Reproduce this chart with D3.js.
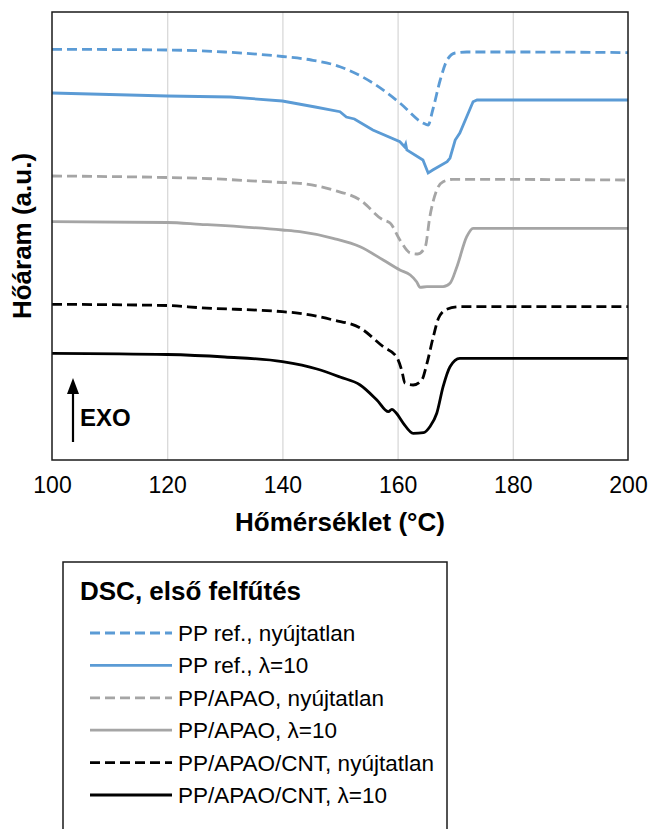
<!DOCTYPE html>
<html><head><meta charset="utf-8">
<script src="https://cdn.jsdelivr.net/npm/d3@7"></script>
<style>body{margin:0;background:#fff}svg{display:block}text{font-family:Arial,"Liberation Sans",sans-serif;fill:#000}</style>
</head><body><svg id="c" width="650" height="829"></svg>
<script>
// ---- data ----
const seriesNames = ["PP ref., nyújtatlan","PP ref., λ=10","PP/APAO, nyújtatlan","PP/APAO, λ=10","PP/APAO/CNT, nyújtatlan","PP/APAO/CNT, λ=10"];
const tPPrefUn = [100,120,130,140,145,150,155.7,160.4,164.4,165.3,166.1,167.4,168.6,170,172,180,200];
const hPPrefUn = [41.07,41.0,40.8,40.35,40.0,39.33,37.7,35.7,33.7,33.5,35.0,38.0,40.0,40.7,40.8,40.8,40.74];
const tPPref10 = [100,110,120,131,140,145.7,150,151.1,152.5,155.7,160.4,161.2,161.4,161.6,164.4,165.3,166.1,168.6,169.1,170,170.8,173.1,173.8,180,200];
const hPPref10 = [36.7,36.55,36.4,36.3,35.9,35.3,34.83,34.3,34.1,33.0,31.83,31.33,31.6,31.0,30.0,28.7,29.0,29.83,30.2,32.0,32.7,35.83,36.0,36.0,36.0];
const tAPAOUn = [100,120,125.7,140,143,148.8,153.5,157.5,158.7,160.4,162.2,163.5,164.8,165.6,166.8,167.9,169.6,200];
const hAPAOUn = [28.4,28.25,28.17,27.75,27.67,27.0,26.0,24.0,23.7,22.0,20.7,20.6,21.33,24.33,27.0,27.83,28.07,28.0];
const tAPAO10 = [100,120,125.7,140,143,148.8,153.5,157.5,160.4,162.2,163.3,163.9,165.1,167.9,169.1,170.3,172,173.1,200];
const hAPAO10 = [23.83,23.75,23.57,23.0,22.83,22.17,21.33,20.0,19.0,18.5,17.83,17.27,17.33,17.33,17.67,19.33,22.33,23.17,23.17];
const tCNTUn = [100,120,125.7,140,143,148.8,153.5,157.5,159.8,160.7,161.3,162.7,164.2,165.1,166.2,167.1,168.5,170.8,200];
const hCNTUn = [15.57,15.45,15.23,14.83,14.67,14.0,13.2,11.33,10.33,9.0,7.67,7.5,8.0,9.67,12.33,14.17,15.07,15.33,15.33];
const tCNT10 = [100,120,130,140,146,150,153.5,156.4,158.4,159,159.8,161,162.7,164.5,165.6,166.8,167.9,169.1,170.8,200];
const hCNT10 = [10.67,10.55,10.3,9.83,9.1,8.3,7.5,6.0,4.83,5.07,4.67,3.67,2.67,2.73,3.33,4.67,7.33,9.33,10.17,10.17];
const xTicks = [100,120,140,160,180,200];
const xTitle = "Hőmérséklet (°C)";
const yTitle = "Hőáram (a.u.)";
const legendTitle = "DSC, első felfűtés";
const exoLabel = "EXO";

// ---- styles ----
const colors = ["#5b9bd5","#5b9bd5","#a5a5a5","#a5a5a5","#000000","#000000"];
const dashed = [true,false,true,false,true,false];
const temps = [tPPrefUn,tPPref10,tAPAOUn,tAPAO10,tCNTUn,tCNT10];
const flows = [hPPrefUn,hPPref10,hAPAOUn,hAPAO10,hCNTUn,hCNT10];

const svg = d3.select("#c");
const L=52,R=628,T=12,B=460;
const x = d3.scaleLinear().domain([100,200]).range([L,R]);
const y = d3.scaleLinear().domain([0,44.8]).range([B,T]);

// grid
svg.append("g").attr("transform",`translate(0,${B})`)
  .call(d3.axisBottom(x).tickValues(xTicks.slice(1,-1)).tickSize(-(B-T)).tickFormat(""))
  .call(g=>g.select(".domain").remove())
  .call(g=>g.selectAll("line").attr("stroke","#d9d9d9").attr("stroke-width",1.3));

// tick labels
svg.append("g").attr("transform",`translate(0,${B})`)
  .call(d3.axisBottom(x).tickValues(xTicks).tickSize(0).tickPadding(17).tickFormat(d3.format("d")))
  .call(g=>g.select(".domain").remove())
  .call(g=>g.selectAll("text").attr("font-size",23).attr("font-family","Arial, Liberation Sans, sans-serif").attr("fill","#000"));

// curves
svg.append("clipPath").attr("id","pc").append("rect").attr("x",L).attr("y",T).attr("width",R-L).attr("height",B-T);
seriesNames.forEach((n,i)=>{
  const pts = temps[i].map((t,j)=>[t,flows[i][j]]);
  svg.append("path").attr("clip-path","url(#pc)")
    .attr("d", d3.line().x(d=>x(d[0])).y(d=>y(d[1])).curve(i===1?d3.curveLinear:d3.curveMonotoneX)(pts))
    .attr("fill","none").attr("stroke",colors[i]).attr("stroke-width",2.8)
    .attr("stroke-dasharray", dashed[i]?"10,5":null);
});

// plot border
svg.append("rect").attr("x",L).attr("y",T).attr("width",R-L).attr("height",B-T)
  .attr("fill","none").attr("stroke","#1a1a1a").attr("stroke-width",1.5);

// axis titles
svg.append("text").attr("x",(L+R)/2).attr("y",531).attr("text-anchor","middle")
  .attr("font-size",26).attr("font-weight","bold").text(xTitle);
svg.append("text").attr("transform",`translate(31,${(T+B)/2}) rotate(-90)`).attr("text-anchor","middle")
  .attr("font-size",26).attr("font-weight","bold").text(yTitle);

// EXO arrow
svg.append("line").attr("x1",73).attr("x2",73).attr("y1",442).attr("y2",392)
  .attr("stroke","#000").attr("stroke-width",2.2);
svg.append("path").attr("d","M73,378 L79,394 L67,394 Z").attr("fill","#000");
svg.append("text").attr("x",80).attr("y",426).attr("font-size",24).attr("font-weight","bold").text(exoLabel);

// legend
const lg = svg.append("g");
lg.append("rect").attr("x",63).attr("y",562).attr("width",447-63).attr("height",300)
  .attr("fill","#fff").attr("stroke","#1a1a1a").attr("stroke-width",1.5);
lg.append("text").attr("x",80).attr("y",600).attr("font-size",26).attr("font-weight","bold").text(legendTitle);
seriesNames.forEach((n,i)=>{
  const cy = 633 + i*32.4;
  lg.append("line").attr("x1",90).attr("x2",172).attr("y1",cy).attr("y2",cy)
    .attr("stroke",colors[i]).attr("stroke-width",2.8).attr("stroke-dasharray",dashed[i]?"10,5":null);
  lg.append("text").attr("x",178).attr("y",cy+8).attr("font-size",22.5).text(n);
});
</script></body></html>
